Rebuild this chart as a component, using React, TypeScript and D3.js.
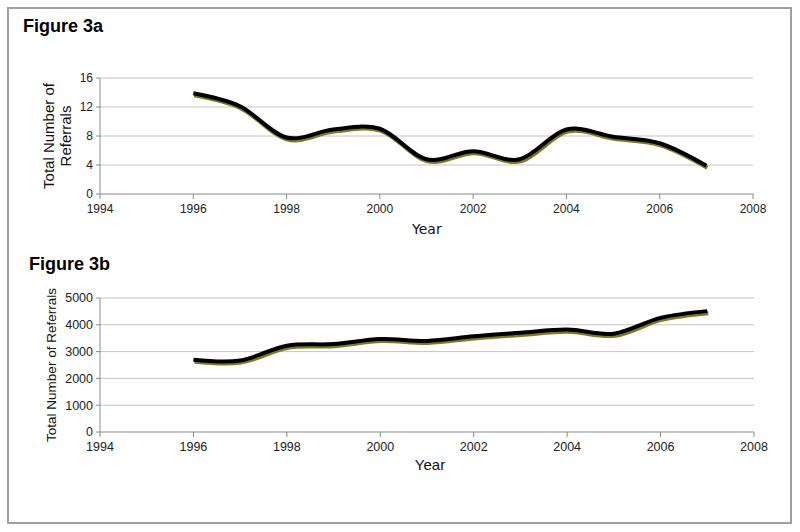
import React from "react";
import * as d3 from "d3";

const years = [1996, 1997, 1998, 1999, 2000, 2001, 2002, 2003, 2004, 2005, 2006, 2007];
const referralsA = [13.9, 12.1, 7.8, 8.9, 9.0, 4.8, 5.9, 4.8, 8.9, 7.9, 7.0, 3.9];
const referralsB = [2700, 2670, 3220, 3280, 3470, 3400, 3570, 3700, 3820, 3670, 4260, 4510];
const xTicks = [1994, 1996, 1998, 2000, 2002, 2004, 2006, 2008];
const yTicksA = [0, 4, 8, 12, 16];
const yTicksB = [0, 1000, 2000, 3000, 4000, 5000];

type PanelProps = {
  title: string;
  titleX: number;
  titleY: number;
  values: number[];
  yTicks: number[];
  x0: number;
  x1: number;
  yTop: number;
  yBottom: number;
  tickFont: number;
  xLabelY: number;
  yLabelLines: string[];
  yLabelX: number;
  yLabelFont: number;
  yearX: number;
  yearY: number;
  yearFont: string;
  yearSize: number;
  yearAnchor: "start" | "middle";
};

function Panel(p: PanelProps) {
  const x = d3.scaleLinear().domain([1994, 2008]).range([p.x0, p.x1]);
  const yMax = p.yTicks[p.yTicks.length - 1];
  const y = d3.scaleLinear().domain([0, yMax]).range([p.yBottom, p.yTop]);
  const line = d3
    .line<number>()
    .x((_, i) => x(years[i]))
    .y((v) => y(v))
    .curve(d3.curveCardinal.tension(0));
  const path = line(p.values) || "";
  const axisColor = "#8a8a8a";
  const gridColor = "#c4c4c4";
  const yMid = (p.yTop + p.yBottom) / 2;
  return (
    <g>
      <text x={p.titleX} y={p.titleY} fontFamily="Arial, Liberation Sans, sans-serif" fontWeight="bold" fontSize={18} fill="#000">
        {p.title}
      </text>
      {p.yTicks.filter((t) => t > 0).map((t) => (
        <line key={"g" + t} x1={p.x0} x2={p.x1} y1={y(t)} y2={y(t)} stroke={gridColor} strokeWidth={1} />
      ))}
      <line x1={p.x0} x2={p.x0} y1={p.yTop} y2={p.yBottom} stroke={axisColor} strokeWidth={1} />
      <line x1={p.x0} x2={p.x1} y1={p.yBottom} y2={p.yBottom} stroke={axisColor} strokeWidth={1} />
      {p.yTicks.map((t) => (
        <g key={"y" + t}>
          <line x1={p.x0 - 4} x2={p.x0} y1={y(t)} y2={y(t)} stroke={axisColor} strokeWidth={1} />
          <text x={p.x0 - 7} y={y(t)} dy="0.35em" textAnchor="end" fontFamily="Arial, Liberation Sans, sans-serif" fontSize={p.tickFont} fill="#222">
            {t}
          </text>
        </g>
      ))}
      {xTicks.map((t) => (
        <g key={"x" + t}>
          <line x1={x(t)} x2={x(t)} y1={p.yBottom} y2={p.yBottom + 5} stroke={axisColor} strokeWidth={1} />
          <text x={x(t)} y={p.xLabelY} textAnchor="middle" fontFamily="Arial, Liberation Sans, sans-serif" fontSize={p.tickFont} fill="#222">
            {t}
          </text>
        </g>
      ))}
      <text
        transform={`translate(${p.yLabelX},${yMid}) rotate(-90)`}
        textAnchor="middle"
        fontFamily="Arial, Liberation Sans, sans-serif"
        fontSize={p.yLabelFont}
        fill="#111"
      >
        {p.yLabelLines.map((l, i) => (
          <tspan key={i} x={0} dy={i === 0 ? 0 : p.yLabelFont * 1.12}>
            {l}
          </tspan>
        ))}
      </text>
      <text x={p.yearX} y={p.yearY} textAnchor={p.yearAnchor} fontFamily={p.yearFont} fontSize={p.yearSize} fill="#111">
        Year
      </text>
      <path d={path} transform="translate(1,2)" fill="none" stroke="#7a7a28" strokeWidth={4.2} strokeLinejoin="round" />
      <path d={path} fill="none" stroke="#000" strokeWidth={4} strokeLinejoin="round" />
    </g>
  );
}

export default function App() {
  return (
    <svg width={800} height={532} style={{ position: "absolute", left: 0, top: 0, background: "#fff" }}>
      <rect x={8} y={8} width={783} height={515} fill="#fff" stroke="#a0a0a0" strokeWidth={2} />
      <Panel
        title="Figure 3a"
        titleX={23}
        titleY={32}
        values={referralsA}
        yTicks={yTicksA}
        x0={100}
        x1={753}
        yTop={78}
        yBottom={194}
        tickFont={12}
        xLabelY={213}
        yLabelLines={["Total Number of", "Referrals"]}
        yLabelX={54}
        yLabelFont={15}
        yearX={412}
        yearY={234}
        yearFont="Verdana, DejaVu Sans, sans-serif"
        yearSize={14}
        yearAnchor="start"
      />
      <Panel
        title="Figure 3b"
        titleX={29}
        titleY={270}
        values={referralsB}
        yTicks={yTicksB}
        x0={100}
        x1={754}
        yTop={298}
        yBottom={432}
        tickFont={12.5}
        xLabelY={451}
        yLabelLines={["Total Number of Referrals"]}
        yLabelX={56}
        yLabelFont={13.5}
        yearX={430}
        yearY={470}
        yearFont="Arial, Liberation Sans, sans-serif"
        yearSize={15}
        yearAnchor="middle"
      />
    </svg>
  );
}
